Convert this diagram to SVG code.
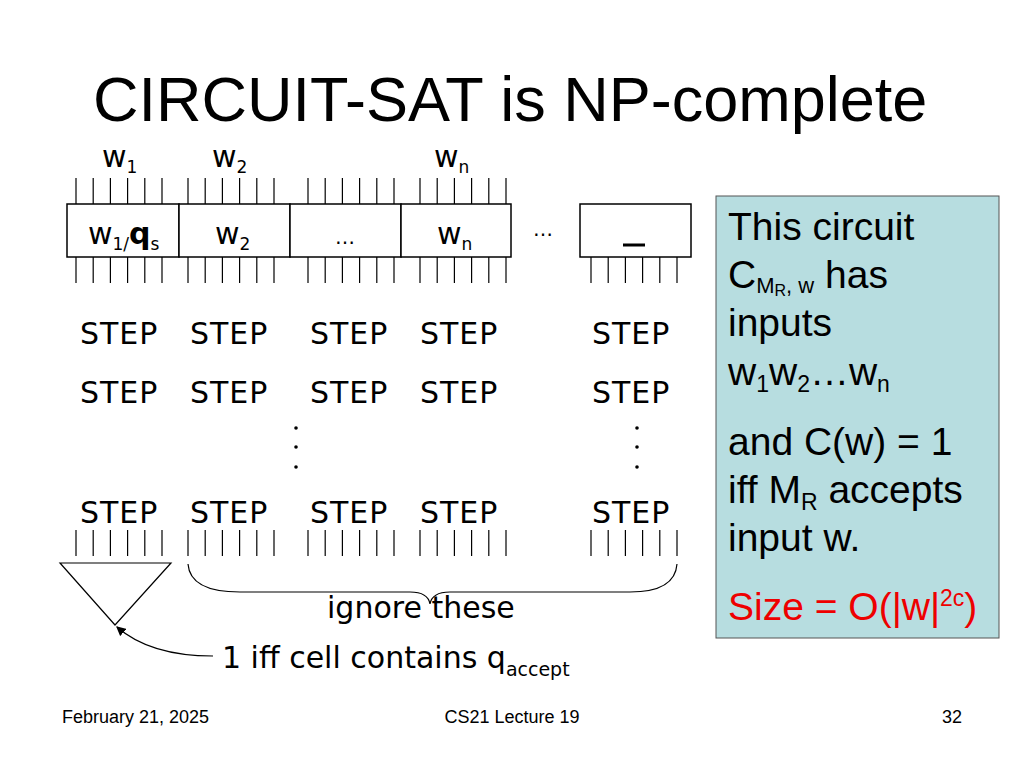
<svg xmlns="http://www.w3.org/2000/svg" width="1024" height="768" viewBox="0 0 1024 768">
<defs>
<style>
.c{font-family:"DejaVu Sans",sans-serif;font-size:30px;fill:#000}
.a{font-family:"Liberation Sans",Arial,sans-serif;fill:#000}
.t{stroke:#000;stroke-width:1.2}
.b{fill:#fff;stroke:#000;stroke-width:1.5}
</style>
<marker id="ar" markerWidth="8" markerHeight="8" refX="7" refY="4" orient="auto"><path d="M0,0L8,4L0,8z" fill="#000"/></marker>
<g id="ticks"><line class="t" x1="0" y1="0" x2="0" y2="26"/><line class="t" x1="17.2" y1="0" x2="17.2" y2="26"/><line class="t" x1="34.4" y1="0" x2="34.4" y2="26"/><line class="t" x1="51.6" y1="0" x2="51.6" y2="26"/><line class="t" x1="68.8" y1="0" x2="68.8" y2="26"/><line class="t" x1="86" y1="0" x2="86" y2="26"/></g>
</defs>
<rect width="1024" height="768" fill="#fff"/>
<text class="a" x="93" y="121" font-size="63">CIRCUIT-SAT is NP-complete</text>
<g id="inputs" class="c" font-size="26">
<text x="102" y="167">w<tspan font-size="17" dy="6">1</tspan></text>
<text x="212" y="167">w<tspan font-size="17" dy="6">2</tspan></text>
<text x="434" y="167">w<tspan font-size="17" dy="6">n</tspan></text>
</g>
<g id="tickrows">
<use href="#ticks" x="76" y="178"/><use href="#ticks" x="188" y="178"/><use href="#ticks" x="308" y="178"/><use href="#ticks" x="420" y="178"/>
<use href="#ticks" x="76" y="257"/><use href="#ticks" x="188" y="257"/><use href="#ticks" x="308" y="257"/><use href="#ticks" x="420" y="257"/><use href="#ticks" x="591" y="257"/>
<use href="#ticks" x="76" y="530"/><use href="#ticks" x="188" y="530"/><use href="#ticks" x="308" y="530"/><use href="#ticks" x="420" y="530"/><use href="#ticks" x="591" y="530"/>
</g>
<g id="tape">
<rect class="b" x="67" y="204" width="112" height="53"/>
<rect class="b" x="179" y="204" width="111" height="53"/>
<rect class="b" x="290" y="204" width="111" height="53"/>
<rect class="b" x="401" y="204" width="110" height="53"/>
<rect class="b" x="580" y="204" width="111" height="53"/>
<g class="c" font-size="26">
<text x="88" y="244">w<tspan font-size="17" dy="6">1/</tspan><tspan dy="-6" font-weight="bold">q</tspan><tspan font-size="17" dy="6">s</tspan></text>
<text x="215" y="244">w<tspan font-size="17" dy="6">2</tspan></text>
<text x="345" y="244" text-anchor="middle" font-size="20">…</text>
<text x="437" y="244">w<tspan font-size="17" dy="6">n</tspan></text>
<text x="543" y="236" text-anchor="middle" font-size="20">…</text>
</g>
<line x1="623" y1="245" x2="645" y2="245" stroke="#000" stroke-width="3"/>
</g>
<g id="steps" class="c" font-size="31" letter-spacing="1">
<text x="80" y="344">STEP</text><text x="190" y="344">STEP</text><text x="310" y="344">STEP</text><text x="420" y="344">STEP</text><text x="592" y="344">STEP</text>
<text x="80" y="403">STEP</text><text x="190" y="403">STEP</text><text x="310" y="403">STEP</text><text x="420" y="403">STEP</text><text x="592" y="403">STEP</text>
<text x="80" y="523">STEP</text><text x="190" y="523">STEP</text><text x="310" y="523">STEP</text><text x="420" y="523">STEP</text><text x="592" y="523">STEP</text>
<g fill="#000"><circle cx="296" cy="428" r="1.8"/><circle cx="296" cy="447" r="1.8"/><circle cx="296" cy="467" r="1.8"/><circle cx="637" cy="428" r="1.8"/><circle cx="637" cy="447" r="1.8"/><circle cx="637" cy="467" r="1.8"/></g>
</g>
<g id="gate"><path d="M60,563H171L115,625Z" fill="none" stroke="#000" stroke-width="1.2"/></g>
<g id="brace"><path d="M188,564Q190,592 240,592H410Q428,592 430,604Q432,592 450,592H630Q675,592 677,564" fill="none" stroke="#000" stroke-width="1.2"/></g>
<g id="connectors"><path d="M213,656Q150,656 117,627" fill="none" stroke="#000" stroke-width="1.2" marker-end="url(#ar)"/></g>
<text class="c" x="327" y="618" font-size="28">ignore these</text>
<text class="c" x="222" y="668" font-size="28">1 iff cell contains q<tspan font-size="19" dy="8">accept</tspan></text>
<g id="panel">
<rect x="716" y="196" width="283" height="442" fill="#b7dde0" stroke="#555" stroke-width="1"/>
<g class="a" font-size="39">
<text x="728" y="240">This circuit</text>
<text x="728" y="288">C<tspan font-size="22" dy="5">M</tspan><tspan font-size="16" dy="3">R</tspan><tspan font-size="22" dy="-3">, w</tspan><tspan dy="-5"> has</tspan></text>
<text x="728" y="336">inputs</text>
<text x="728" y="385">w<tspan font-size="23" dy="7">1</tspan><tspan dy="-7">w</tspan><tspan font-size="23" dy="7">2</tspan><tspan dy="-7">…w</tspan><tspan font-size="23" dy="7">n</tspan></text>
<text x="728" y="455">and C(w) = 1</text>
<text x="728" y="503">iff M<tspan font-size="23" dy="7">R</tspan><tspan dy="-7"> accepts</tspan></text>
<text x="728" y="551">input w.</text>
<text x="728" y="620" fill="#e00">Size = O(|w|<tspan font-size="23" dy="-14">2c</tspan><tspan dy="14">)</tspan></text>
</g>
</g>
<g class="a" font-size="18">
<text x="62" y="723">February 21, 2025</text>
<text x="512" y="723" text-anchor="middle">CS21 Lecture 19</text>
<text x="962" y="723" text-anchor="end">32</text>
</g>
</svg>
